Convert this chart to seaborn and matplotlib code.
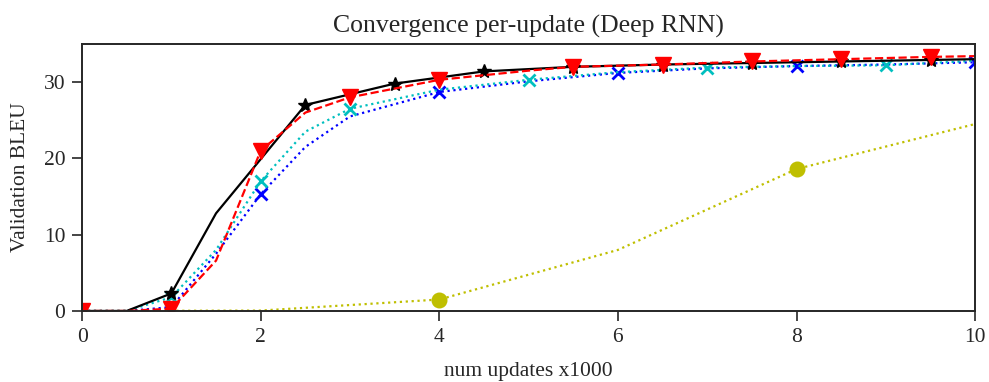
import matplotlib
matplotlib.use("Agg")
import matplotlib.pyplot as plt
import seaborn as sns
import pandas as pd

# Data (x in thousands of updates, y = validation BLEU)
black_x = [0, 0.5, 1, 1.5, 2.5, 3.5, 4.5, 5.5, 6.5, 7.5, 8.5, 9.5, 10]
black_y = [0, 0, 2.3, 12.8, 27.0, 29.8, 31.4, 32.0, 32.3, 32.5, 32.7, 32.9, 33.0]
black_marks = [2, 4, 5, 6, 7, 8, 9, 10, 11]

red_x = [0, 0.5, 1, 1.5, 2, 2.5, 3, 4, 5, 5.5, 6.5, 7.5, 8.5, 9.5, 10]
red_y = [0, 0, 0.3, 6.6, 21.0, 26.0, 28.0, 30.3, 31.5, 32.0, 32.3, 32.7, 33.0, 33.3, 33.4]
red_marks = [0, 2, 4, 6, 7, 9, 10, 11, 12, 13]

cyan_x = [0, 0.5, 1, 1.5, 2, 2.5, 3, 4, 5, 6, 7, 8, 9, 10]
cyan_y = [0, 0, 1.8, 8.0, 17.0, 23.5, 26.5, 29.0, 30.3, 31.3, 31.9, 32.1, 32.2, 32.8]
cyan_marks = [2, 4, 6, 8, 10, 12]

blue_x = [0, 0.5, 1, 1.5, 2, 2.5, 3, 4, 5, 6, 7, 8, 9, 10]
blue_y = [0, 0, 0.5, 7.5, 15.3, 21.5, 25.5, 28.7, 30.1, 31.2, 31.8, 32.1, 32.3, 32.6]
blue_marks = [4, 7, 9, 11, 13]

yellow_x = [0, 2, 4, 6, 8, 10]
yellow_y = [0, 0.05, 1.5, 8.0, 18.6, 24.5]
yellow_marks = [2, 4]

title = "Convergence per-update (Deep RNN)"
xlabel = "num updates x1000"
ylabel = "Validation BLEU"
xticks = [0, 2, 4, 6, 8, 10]
yticks = [0, 10, 20, 30]

sns.set_style("ticks")
plt.rcParams["font.family"] = ["Liberation Serif", "DejaVu Serif"]
plt.rcParams["mathtext.fontset"] = "stix"

fig = plt.figure(figsize=(9.89, 3.82), dpi=100)
ax = fig.add_axes([0.083, 0.186, 0.903, 0.699])

def draw(xs, ys, color, ls, marker, ms, marks, mew=1.5):
    df = pd.DataFrame({"x": xs, "y": ys})
    sns.lineplot(data=df, x="x", y="y", ax=ax, color=color, linestyle=ls,
                 linewidth=1.6, marker=marker, markersize=ms, markevery=marks,
                 markeredgecolor=color, markerfacecolor=color, markeredgewidth=mew,
                 estimator=None, sort=False)

draw(yellow_x, yellow_y, "#bfbf00", ":", "o", 10, yellow_marks)
draw(blue_x, blue_y, "#0000ff", ":", "x", 9, blue_marks, mew=2)
draw(cyan_x, cyan_y, "#00bfbf", ":", "x", 9, cyan_marks, mew=2)
draw(black_x, black_y, "black", "-", "*", 10, black_marks, mew=1)
draw(red_x, red_y, "#ff0000", "--", "v", 11, red_marks, mew=1)

ax.set_xlim(0, 10)
ax.set_ylim(0, 35)
ax.set_xticks(xticks)
ax.set_yticks(yticks)
ax.set_title(title, fontsize=18.5, pad=8)
ax.set_xlabel(xlabel, fontsize=15.5, labelpad=11)
ax.set_ylabel(ylabel, fontsize=15.5, labelpad=10)
ax.tick_params(labelsize=15.5, length=7, width=1.2, pad=5)
for s in ax.spines.values():
    s.set_linewidth(1.4)
    s.set_visible(True)

fig.savefig("out.png", dpi=100)
